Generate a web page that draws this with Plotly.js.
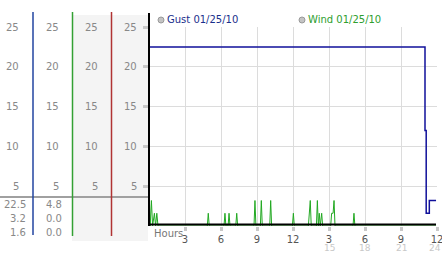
<!DOCTYPE html>
<html><head><meta charset="utf-8">
<script src="https://cdn.plot.ly/plotly-3.0.1.min.js"></script>
<style>html,body{margin:0;padding:0;background:#fff}#chart{width:442px;height:253px}</style>
</head><body><div id="chart"></div>
<script>
// ---- data ----
const gustHours = [0, 23.0, 23.0, 23.1, 23.1, 23.36, 23.36, 23.92];
const gustMph   = [22.5, 22.5, 12.0, 12.0, 1.6, 1.6, 3.2, 3.2];

const windHours = [0, 0.1, 0.2, 0.3, 0.45, 0.55, 0.65, 0.75,
  4.86, 4.94, 5.02,
  6.25, 6.33, 6.41,
  6.59, 6.67, 6.75,
  7.23, 7.31, 7.39,
  8.75, 8.83, 8.91,
  9.28, 9.36, 9.44,
  10.06, 10.14, 10.22,
  11.95, 12.03, 12.11,
  13.28, 13.36, 13.44, 13.52,
  13.95, 14.03, 14.11, 14.19, 14.27, 14.39, 14.47,
  15.14, 15.22, 15.34, 15.42, 15.5,
  17.0, 17.08, 17.16,
  23.92];
const windMph = [4.8, 0, 3.2, 0, 1.6, 0, 1.6, 0,
  0, 1.6, 0,
  0, 1.6, 0,
  0, 1.6, 0,
  0, 1.6, 0,
  0, 3.2, 0,
  0, 3.2, 0,
  0, 3.2, 0,
  0, 1.6, 0,
  0, 1.6, 3.2, 0,
  0, 3.2, 0, 1.6, 0, 1.6, 0,
  0, 1.6, 1.6, 3.2, 0,
  0, 1.6, 0,
  0];

const yTickVals = [5, 10, 15, 20, 25];
const xTickVals = [3, 6, 9, 12, 15, 18, 21, 24];
const xTickText = ['3', '6', '9', '12', '3', '6', '9', '12'];
const xSecondRowVals = [15, 18, 21, 24];
const gustStats = ['22.5', '3.2', '1.6'];
const windStats = ['4.8', '0.0', '0.0'];
const gustLabel = 'Gust 01/25/10';
const windLabel = 'Wind 01/25/10';
const xTitle = 'Hours';

// ---- layout helpers ----
const W = 442, H = 253;
const px = x => x / W;
const py = y => 1 - y / H;
const FONT = 'DejaVu Sans';

const traces = [
  {x: windHours, y: windMph, type: 'scatter', mode: 'lines',
   line: {color: '#22a822', width: 1}, hoverinfo: 'skip', cliponaxis: false},
  {x: gustHours, y: gustMph, type: 'scatter', mode: 'lines',
   line: {color: '#10109a', width: 1.5}, hoverinfo: 'skip'}
];

const shapes = [
  {type: 'rect', xref: 'paper', yref: 'paper', x0: px(72), x1: px(148), y0: py(241), y1: py(15),
   fillcolor: '#f4f4f4', line: {width: 0}, layer: 'below'},
  {type: 'line', xref: 'paper', yref: 'paper', x0: 0, x1: px(149), y0: py(197), y1: py(197),
   line: {color: '#a0a0a0', width: 2}},
  {type: 'line', xref: 'paper', yref: 'paper', x0: px(33), x1: px(33), y0: py(12), y1: py(235),
   line: {color: '#2244a0', width: 1.5}},
  {type: 'line', xref: 'paper', yref: 'paper', x0: px(72.5), x1: px(72.5), y0: py(12), y1: py(236),
   line: {color: '#33a033', width: 1.5}},
  {type: 'line', xref: 'paper', yref: 'paper', x0: px(111.5), x1: px(111.5), y0: py(12), y1: py(236),
   line: {color: '#b03333', width: 1.5}},
  {type: 'line', xref: 'paper', yref: 'paper', x0: px(149), x1: px(149), y0: py(13), y1: py(226),
   line: {color: '#000', width: 2}},
  {type: 'line', xref: 'paper', yref: 'y', x0: px(149), x1: px(436), y0: 0.2, y1: 0.2,
   line: {color: '#000', width: 2}},
  {type: 'circle', xref: 'paper', yref: 'paper', x0: px(158), x1: px(164), y0: py(23), y1: py(17),
   fillcolor: '#c4c4c4', line: {color: '#999', width: 1}},
  {type: 'circle', xref: 'paper', yref: 'paper', x0: px(299), x1: px(305), y0: py(23), y1: py(17),
   fillcolor: '#c4c4c4', line: {color: '#999', width: 1}}
];

const annotations = [];
const colRight = [20, 60, 99, 138];
colRight.forEach(r => {
  yTickVals.forEach(v => {
    annotations.push({xref: 'paper', yref: 'y', x: px(r + 1), y: v, text: String(v),
      xanchor: 'right', yanchor: 'middle', showarrow: false,
      font: {family: FONT, size: 10, color: '#888'}});
  });
});
const statRows = [204, 218, 232];
gustStats.forEach((s, i) => annotations.push({xref: 'paper', yref: 'paper', x: px(28), y: py(statRows[i]),
  text: s, xanchor: 'right', yanchor: 'middle', showarrow: false, font: {family: FONT, size: 10, color: '#888'}}));
windStats.forEach((s, i) => annotations.push({xref: 'paper', yref: 'paper', x: px(64), y: py(statRows[i]),
  text: s, xanchor: 'right', yanchor: 'middle', showarrow: false, font: {family: FONT, size: 10, color: '#888'}}));
annotations.push({xref: 'paper', yref: 'paper', x: px(165), y: py(20), text: gustLabel,
  xanchor: 'left', yanchor: 'middle', showarrow: false, font: {family: FONT, size: 10, color: '#1a2f8c'}});
annotations.push({xref: 'paper', yref: 'paper', x: px(306), y: py(20), text: windLabel,
  xanchor: 'left', yanchor: 'middle', showarrow: false, font: {family: FONT, size: 10, color: '#2e9e2e'}});
annotations.push({xref: 'paper', yref: 'paper', x: px(152), y: py(233), text: xTitle,
  xanchor: 'left', yanchor: 'middle', showarrow: false, font: {family: FONT, size: 10, color: '#777'}});
xSecondRowVals.forEach(v => annotations.push({xref: 'x', yref: 'paper', x: v, y: py(248), text: String(v),
  xanchor: 'center', yanchor: 'middle', showarrow: false, borderpad: 0, xshift: v === 24 ? -2 : 0,
  font: {family: FONT, size: 9, color: '#c8c8c8'}}));

const layout = {
  width: W, height: H,
  margin: {l: 0, r: 0, t: 0, b: 0, pad: 0},
  paper_bgcolor: 'rgba(0,0,0,0)', plot_bgcolor: '#fff',
  showlegend: false,
  xaxis: {domain: [px(149), px(437)], range: [0, 24], tickmode: 'array', tickvals: xTickVals, ticktext: xTickText,
    showgrid: true, gridcolor: '#dcdcdc', gridwidth: 1, zeroline: false, showline: false,
    ticks: 'outside', ticklen: 4, tickwidth: 3, tickcolor: '#c8c8c8', ticklabeloverflow: 'allow',
    tickfont: {family: FONT, size: 10, color: '#555'}, fixedrange: true},
  yaxis: {domain: [27 / H, 226 / H], range: [0, 25], tickmode: 'array', tickvals: yTickVals,
    showticklabels: false, showgrid: true, gridcolor: '#dcdcdc', gridwidth: 1, zeroline: false, showline: false,
    ticks: 'outside', ticklen: 5, tickwidth: 3, tickcolor: '#c8c8c8', fixedrange: true},
  shapes: shapes,
  annotations: annotations
};

Plotly.newPlot('chart', traces, layout, {staticPlot: true, displayModeBar: false});
</script></body></html>
